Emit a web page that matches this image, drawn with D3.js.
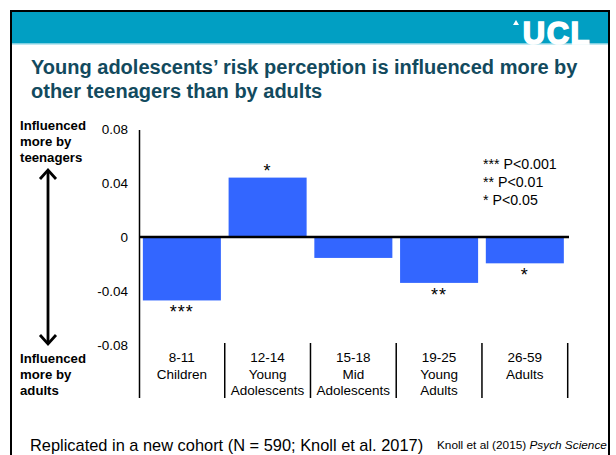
<!DOCTYPE html>
<html>
<head>
<meta charset="utf-8">
<script src="https://cdn.jsdelivr.net/npm/d3@7"></script>
<style>
  html, body { margin: 0; padding: 0; background: #fff; }
  svg { display: block; font-family: "Liberation Sans", Arial, Helvetica, sans-serif; }
</style>
</head>
<body>
<svg id="chart" width="616" height="455"></svg>
<script>
// Age groups and the mean social-influence difference (teenagers minus adults)
const ageRanges = ["8-11", "12-14", "15-18", "19-25", "26-59"];
const groupNames = [["Children"], ["Young", "Adolescents"], ["Mid", "Adolescents"], ["Young", "Adults"], ["Adults"]];
const influenceDiff = [-0.047, 0.044, -0.0155, -0.034, -0.0195];
const significance = ["***", "*", "", "**", "*"];
const yTicks = [0.08, 0.04, 0, -0.04, -0.08];
const yTickLabels = ["0.08", "0.04", "0", "-0.04", "-0.08"];
const legendLines = ["*** P<0.001", "** P<0.01", "* P<0.05"];

const svg = d3.select("#chart");

// Slide frame and header band
svg.append("rect").attr("x", 11).attr("y", 11).attr("width", 598).attr("height", 460)
  .attr("fill", "#fff").attr("stroke", "#000").attr("stroke-width", 2);
svg.append("rect").attr("x", 12).attr("y", 12).attr("width", 596).attr("height", 31).attr("fill", "#019fc3");
svg.append("rect").attr("x", 12).attr("y", 43).attr("width", 596).attr("height", 1.5).attr("fill", "#7fd0e2");
svg.append("text").attr("x", 591).attr("y", 44).attr("text-anchor", "end")
  .attr("font-size", 31).attr("font-weight", "bold").attr("letter-spacing", 1.5).attr("fill", "#fff")
  .attr("stroke", "#fff").attr("stroke-width", 1.6)
  .text("UCL");
svg.append("path").attr("d", "M513,25 L516,20 L519,25 Z").attr("fill", "#fff");

// Title
const title = svg.append("text").attr("x", 31).attr("font-size", 20).attr("font-weight", "bold").attr("fill", "#124a5e");
title.append("tspan").attr("x", 31).attr("y", 74).text("Young adolescents\u2019 risk perception is influenced more by");
title.append("tspan").attr("x", 31).attr("y", 98).text("other teenagers than by adults");

// Scales
const x = d3.scaleBand().domain(ageRanges).range([139, 567.7]).paddingInner(0.09).paddingOuter(0.045);
const y = d3.scaleLinear().domain([-0.08, 0.08]).range([345, 129]);

// Y axis labels
const yAxis = d3.axisLeft(y).tickValues(yTicks).tickFormat((d, i) => yTickLabels[i]).tickSize(0).tickPadding(11);
const yg = svg.append("g").attr("transform", "translate(139,0)").call(yAxis);
yg.select(".domain").remove();
yg.selectAll("text").attr("font-size", 13.5).attr("fill", "#000").attr("font-family", "Liberation Sans, Arial, sans-serif");

// Vertical axis line runs down through the category label area
svg.append("line").attr("x1", 139.5).attr("x2", 139.5).attr("y1", y(0.08) + 1).attr("y2", 398)
  .attr("stroke", "#000").attr("stroke-width", 1.5);

// Bars
svg.append("g").selectAll("rect").data(influenceDiff).join("rect")
  .attr("x", (d, i) => x(ageRanges[i]))
  .attr("width", x.bandwidth())
  .attr("y", d => y(Math.max(0, d)))
  .attr("height", d => Math.abs(y(d) - y(0)))
  .attr("fill", "#3366ff");

// Zero line
svg.append("line").attr("x1", 139).attr("x2", 569).attr("y1", y(0)).attr("y2", y(0))
  .attr("stroke", "#000").attr("stroke-width", 2.5);

// Significance stars
svg.append("g").selectAll("text").data(influenceDiff).join("text")
  .attr("x", (d, i) => x(ageRanges[i]) + x.bandwidth() / 2)
  .attr("y", d => d > 0 ? y(d) - 1 : y(d) + 18)
  .attr("text-anchor", "middle").attr("font-size", 18).attr("letter-spacing", 1)
  .text((d, i) => significance[i]);

// Category dividers and labels
const step = x.step();
const bounds = ageRanges.map(c => x(c) - x.paddingInner() * step / 2).concat([567.7]);
svg.append("g").selectAll("line").data(bounds.slice(1)).join("line")
  .attr("x1", d => d).attr("x2", d => d).attr("y1", 343).attr("y2", 398)
  .attr("stroke", "#000").attr("stroke-width", 1.5);

const cat = svg.append("g").selectAll("text").data(ageRanges).join("text")
  .attr("text-anchor", "middle").attr("font-size", 13.5).attr("fill", "#000");
cat.each(function (d, i) {
  const t = d3.select(this);
  const cx = x(d) + x.bandwidth() / 2;
  t.append("tspan").attr("x", cx).attr("y", 362).text(d);
  groupNames[i].forEach((w, k) => t.append("tspan").attr("x", cx).attr("y", 378.5 + k * 16).text(w));
});

// Legend for significance levels
const leg = svg.append("text").attr("font-size", 14.2).attr("fill", "#000");
legendLines.forEach((s, i) => leg.append("tspan").attr("x", 483).attr("y", 169 + i * 18).text(s));

// Direction annotation on the left
const topNote = svg.append("text").attr("font-size", 13.2).attr("font-weight", "bold").attr("fill", "#000");
["Influenced", "more by", "teenagers"].forEach((s, i) => topNote.append("tspan").attr("x", 20).attr("y", 130 + i * 16).text(s));
const botNote = svg.append("text").attr("font-size", 13.2).attr("font-weight", "bold").attr("fill", "#000");
["Influenced", "more by", "adults"].forEach((s, i) => botNote.append("tspan").attr("x", 20).attr("y", 363 + i * 16).text(s));

// Double-headed arrow
svg.append("line").attr("x1", 48).attr("x2", 48).attr("y1", 171).attr("y2", 343).attr("stroke", "#000").attr("stroke-width", 2.8);
svg.append("path").attr("d", "M40,179 L48,170 L56,179").attr("fill", "none").attr("stroke", "#000").attr("stroke-width", 2.8);
svg.append("path").attr("d", "M40,335 L48,344 L56,335").attr("fill", "none").attr("stroke", "#000").attr("stroke-width", 2.8);

// Footer notes
svg.append("text").attr("x", 30).attr("y", 451).attr("font-size", 16.4).attr("fill", "#000")
  .text("Replicated in a new cohort (N = 590; Knoll et al. 2017)");
const cite = svg.append("text").attr("x", 437).attr("y", 449).attr("font-size", 11.8).attr("fill", "#000");
cite.append("tspan").text("Knoll et al (2015) ");
cite.append("tspan").attr("font-style", "italic").text("Psych Science");
</script>
</body>
</html>
